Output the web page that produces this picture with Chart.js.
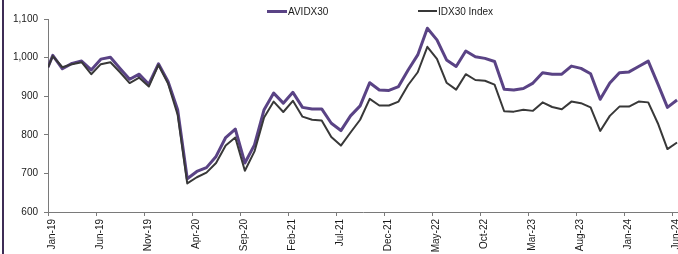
<!DOCTYPE html>
<html>
<head>
<meta charset="utf-8">
<script src="https://cdn.jsdelivr.net/npm/chart.js@4.4.0/dist/chart.umd.min.js"></script>
<style>
  html, body { margin: 0; padding: 0; background: #fff; }
  #wrap { position: relative; width: 678px; height: 254px; overflow: hidden; }
  #frame { position: absolute; left: 2px; top: 0; width: 2px; height: 254px; background: #3d2c55; }
  .leg { position: absolute; top: 6px; height: 14px; line-height: 14px; font: 10px "Liberation Sans", Arial, sans-serif; color: #1a1a1a; white-space: nowrap; }
  .leg span { display: inline-block; vertical-align: middle; margin-right: 1px; margin-top: -2px; }
</style>
</head>
<body>
<div id="wrap">
  <canvas id="chart" width="678" height="254"></canvas>
  <div id="frame"></div>
  <div class="leg" style="left:267px"><span style="width:20px;height:3px;background:#5a4385"></span>AVIDX30</div>
  <div class="leg" style="left:418px"><span style="width:19px;height:2px;background:#383838"></span>IDX30 Index</div>
</div>
<script>
// ---- data ----
var avidx30 = [975, 1006, 971, 985, 991, 968, 996, 1001, 972, 944, 957, 931, 984, 938, 865, 686,
    705, 715, 744, 793, 815, 727, 774, 865, 908, 882, 910, 871, 867, 867, 830, 811,
    849, 875, 935, 916, 915, 925, 968, 1007, 1076, 1046, 994, 977, 1017, 1002, 998, 990,
    918, 916, 920, 934, 961, 957, 957, 978, 972, 958, 892, 934, 961, 963, 977, 991,
    932, 871, 890];
var idx30 = [975, 1004, 975, 983, 988, 957, 983, 988, 962, 934, 948, 925, 981, 933, 852, 674,
    690, 702, 727, 772, 793, 707, 757, 845, 886, 859, 888, 847, 839, 837, 794, 772,
    806, 839, 893, 876, 876, 886, 929, 962, 1028, 997, 935, 917, 957, 942, 940, 930,
    861, 860, 865, 862, 884, 872, 866, 886, 882, 871, 810, 849, 873, 873, 886, 884,
    830, 763, 780];
var tickLabels = ['Jan-19', 'Jun-19', 'Nov-19', 'Apr-20', 'Sep-20', 'Feb-21', 'Jul-21',
    'Dec-21', 'May-22', 'Oct-22', 'Mar-23', 'Aug-23', 'Jan-24', 'Jun-24'];
var yTicks = [600, 700, 800, 900, 1000, 1100];

// base value on 1 Jan 2019, then one reading per month (mid-month) to Jun-24
var dates = ['2019-01-01'];
for (var yr = 2019; yr <= 2024; yr++) {
    for (var mo = 1; mo <= 12; mo++) {
        if (yr === 2024 && mo > 6) break;
        dates.push(yr + '-' + (mo < 10 ? '0' + mo : mo) + '-16');
    }
}

// months since Jan-19, used as x position on a linear axis
function monthOffset(d) {
    var p = d.split('-');
    return (+p[0] - 2019) * 12 + (+p[1] - 1) + (+p[2] - 1) / 30;
}

function toPoints(values) {
    return values.map(function(v, i) { return { x: monthOffset(dates[i]), y: v }; });
}

var axisColor = '#7a7a7a';
var font = { family: '"Liberation Sans", Arial, sans-serif', size: 10 };

new Chart(document.getElementById('chart'), {
    type: 'line',
    data: {
        datasets: [{
            label: 'IDX30 Index',
            data: toPoints(idx30),
            borderColor: '#383838',
            borderWidth: 2,
            pointRadius: 0,
            tension: 0,
            borderJoinStyle: 'round'
        }, {
            label: 'AVIDX30',
            data: toPoints(avidx30),
            borderColor: '#5a4385',
            borderWidth: 3,
            pointRadius: 0,
            tension: 0,
            borderJoinStyle: 'round'
        }]
    },
    options: {
        responsive: false,
        animation: false,
        devicePixelRatio: 1,
        layout: { padding: { top: 19, left: 3, right: 0, bottom: 0 } },
        plugins: { legend: { display: false }, tooltip: { enabled: false } },
        scales: {
            x: {
                type: 'linear',
                min: 0,
                max: 65.6,
                grid: { drawOnChartArea: false, color: axisColor, tickLength: 4 },
                border: { color: axisColor, width: 1 },
                ticks: {
                    stepSize: 5,
                    includeBounds: false,
                    autoSkip: false,
                    minRotation: 90,
                    maxRotation: 90,
                    padding: 3,
                    labelOffset: 4,
                    color: '#1a1a1a',
                    font: font,
                    callback: function(v) { return tickLabels[Math.round(v / 5)] || ''; }
                },
                afterFit: function(scale) {
                    scale.height = 42;
                    scale.paddingLeft = 0;
                    scale.paddingRight = 0;
                }
            },
            y: {
                min: yTicks[0],
                max: yTicks[yTicks.length - 1],
                grid: { drawOnChartArea: false, color: axisColor, tickLength: 4 },
                border: { color: axisColor, width: 1 },
                afterBuildTicks: function(scale) {
                    scale.ticks = yTicks.map(function(v) { return { value: v }; });
                },
                ticks: {
                    padding: 6,
                    color: '#1a1a1a',
                    font: font,
                    callback: function(v) { return v.toLocaleString('en-US'); }
                },
                afterFit: function(scale) { scale.width = 45; }
            }
        }
    }
});
</script>
</body>
</html>
